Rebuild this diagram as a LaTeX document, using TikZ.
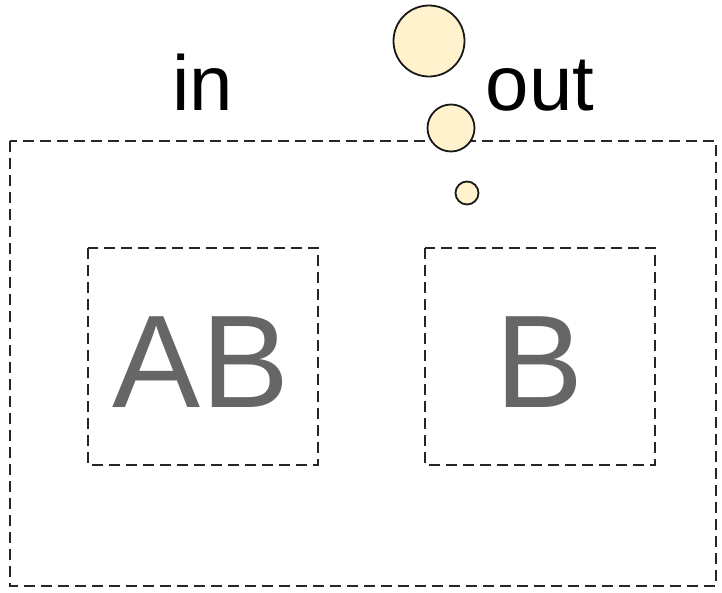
\documentclass[tikz,border=0pt]{standalone}
\usepackage{fontspec}
\setmainfont{Liberation Sans}
\definecolor{bubble}{HTML}{FFF2CC}
\definecolor{labelgray}{HTML}{666666}
\begin{document}
\begin{tikzpicture}[x=1pt,y=-1pt,
  frame/.style={draw=black!85, line width=1.8pt, dash pattern=on 11pt off 6pt},
  bubblestyle/.style={circle, draw=black!90, line width=1.8pt, fill=bubble, inner sep=0pt},
  biglabel/.style={text=labelgray, font=\fontsize{132}{132}\selectfont, inner sep=0pt},
  toplabel/.style={text=black, font=\fontsize{78}{78}\selectfont, inner sep=0pt}]
\useasboundingbox (0,0) rectangle (722,592);
% outer container
\draw[frame] (10,141) rectangle (716,586);
% inner boxes
\draw[frame] (88,248) rectangle (318,465);
\draw[frame] (425,248) rectangle (655,465);
\node[biglabel] (ab) at (201,362) {AB};
\node[biglabel] (b) at (540,362) {B};
% labels above the container
\node[toplabel, anchor=base] (in) at (203,110) {in};
\node[toplabel, anchor=base] (out) at (540,110) {out};
% bubbles
\node[bubblestyle, minimum size=71pt] (b1) at (429,41) {};
\node[bubblestyle, minimum size=47pt] (b2) at (451,128) {};
\node[bubblestyle, minimum size=23pt] (b3) at (467,193) {};
\end{tikzpicture}
\end{document}
